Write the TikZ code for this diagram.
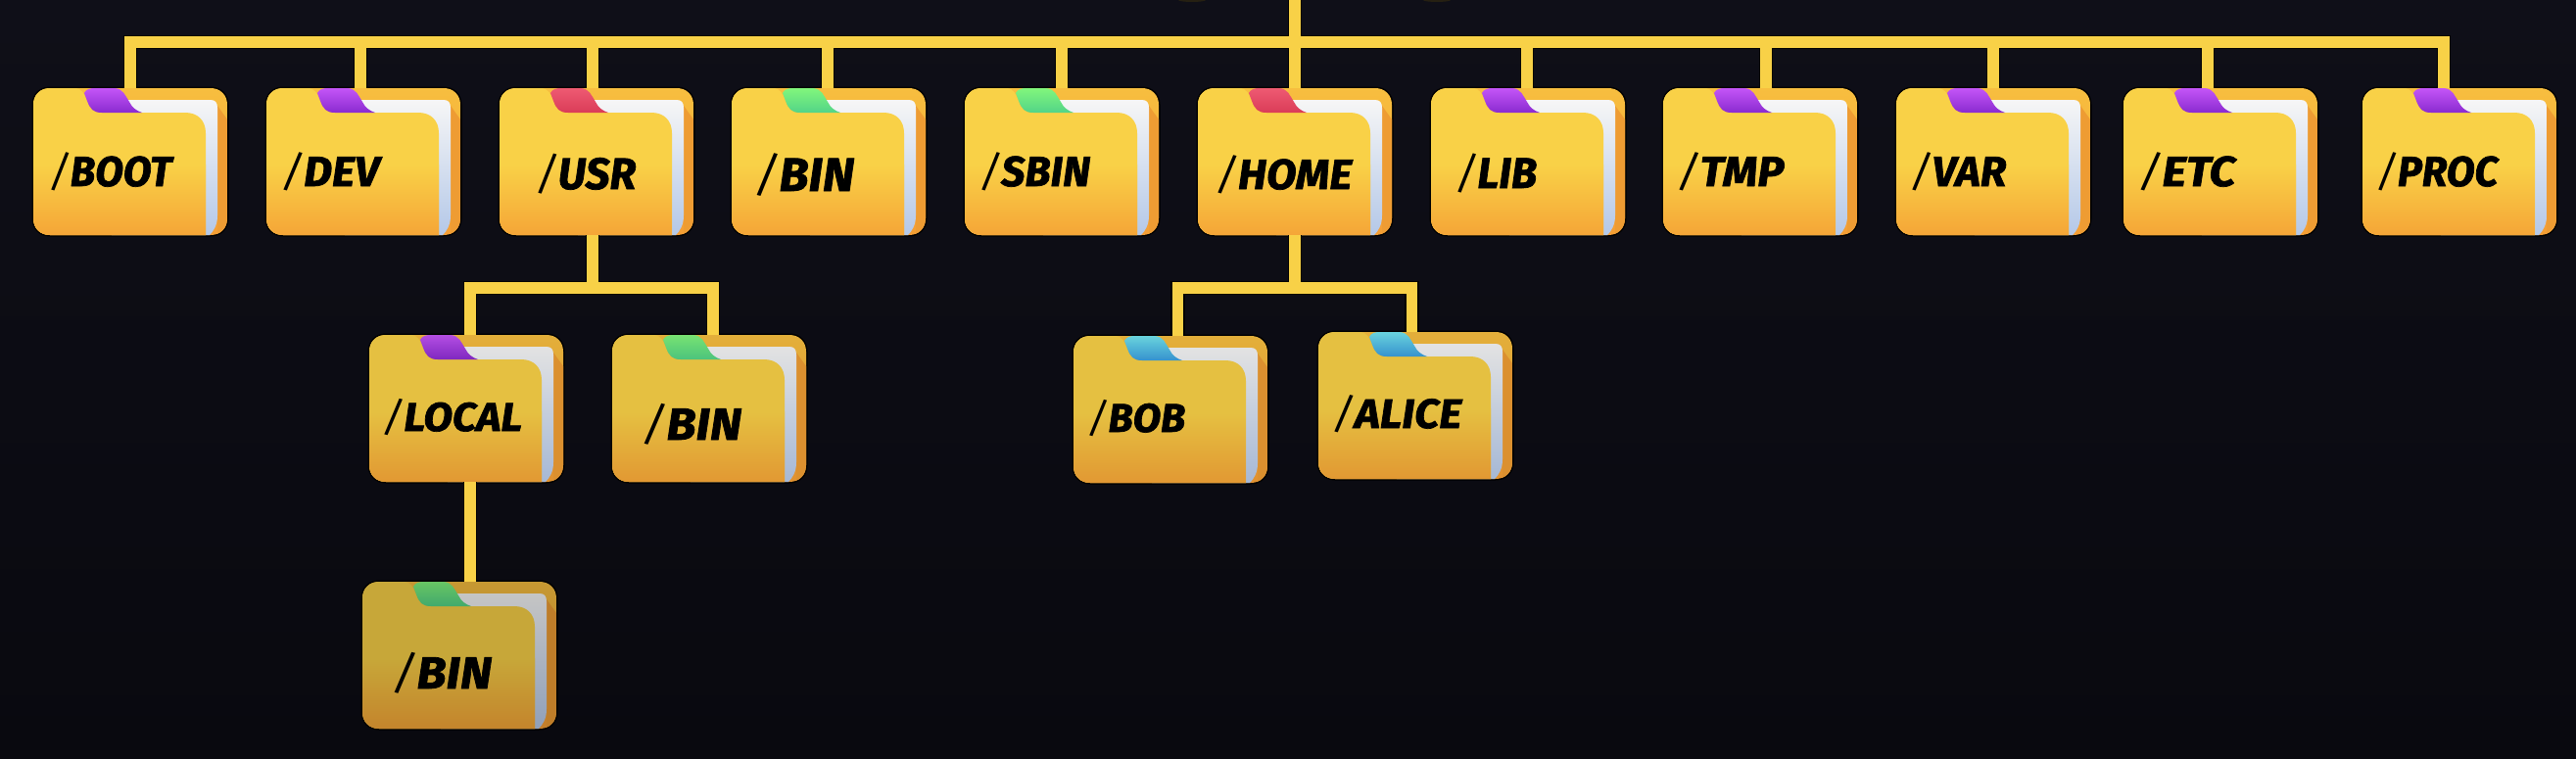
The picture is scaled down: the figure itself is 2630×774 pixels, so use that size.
\documentclass[tikz,border=0pt]{standalone}
\usepackage{graphicx}
\usepackage{fontspec}
\newfontfamily\fldfont{Fira Sans}[BoldItalicFeatures={FakeBold=1.6}]
\definecolor{BgT}{HTML}{0F0F18}
\definecolor{BgB}{HTML}{09090F}
\definecolor{Wire}{HTML}{F8D147}
\definecolor{FrontT}{HTML}{F9D147}
\definecolor{FrontB}{HTML}{F5A537}
\definecolor{BackT}{HTML}{F7BE3F}
\definecolor{BackB}{HTML}{F49E35}
\definecolor{Shade}{HTML}{EE9C33}
\definecolor{PaperT}{HTML}{F6F6F6}
\definecolor{PaperB}{HTML}{B4C8E8}
\definecolor{PurT}{HTML}{C455F7}
\definecolor{PurB}{HTML}{8A2BD0}
\definecolor{RedT}{HTML}{EE5A72}
\definecolor{RedB}{HTML}{DA3C58}
\definecolor{GrnT}{HTML}{82F67C}
\definecolor{GrnB}{HTML}{52D488}
\definecolor{BluT}{HTML}{72E6F0}
\definecolor{BluB}{HTML}{3A9EE0}
\definecolor{Faint}{HTML}{262012}
\tikzset{
  wirecase/.style={draw=black!92!BgT,line width=14.5pt,line join=miter},
  wireline/.style={draw=Wire,line width=11.5pt,line join=miter},
  foldertext/.style={anchor=base west,inner sep=0pt,text=black},
  folderbox/.style={anchor=north west,inner sep=0pt,minimum width=198pt,minimum height=150pt}
}
\newcommand{\fldlb}[2]{\fldfont\fontsize{#1}{#1}\selectfont{\itshape/}{\bfseries\itshape #2}}
\newcommand{\fldfront}{(0,17) .. controls (0,7) and (7,0) .. (17,0) -- (42,0) .. controls (50,0) and (52,6) .. (55,13) .. controls (58,21) and (61,25) .. (70,25) -- (155,25) .. controls (168,25) and (176,33) .. (176,46) -- (176,150) -- (17,150) .. controls (7,150) and (0,143) .. (0,133) -- cycle}
\newcommand{\fldouter}{(0,17) .. controls (0,7) and (7,0) .. (17,0) -- (181,0) .. controls (191,0) and (198,7) .. (198,17) -- (198,133) .. controls (198,143) and (191,150) .. (181,150) -- (17,150) .. controls (7,150) and (0,143) .. (0,133) -- cycle}
% name, left, top, tab colour prefix, brightness, label x, label baseline, label width, label
\newcommand{\folder}[9]{%
  \begin{scope}[shift={(#2,#3)}]
    \draw[black,line width=3pt] \fldouter;
    \begin{scope}
      \clip \fldouter;
      \shade[top color=BackT!#5!black,bottom color=BackB!#5!black] (0,0) rectangle (198,150);
      \fill[Shade!#5!black] (188,18) -- (198,32) -- (198,150) -- (188,150) -- cycle;
      \shade[top color=PaperT!#5!black,middle color=PaperT!#5!black,bottom color=PaperB!#5!black]
        (80,12) -- (181,12) .. controls (186,12) and (188,15) .. (188,20) -- (188,130) .. controls (188,140) and (184,146) .. (180,150) -- (80,150) -- cycle;
      \fill[FrontT!#5!black] \fldfront;
      \clip \fldfront;
      \shade[top color=FrontT!#5!black,bottom color=FrontB!#5!black] (0,78) rectangle (198,151);
    \end{scope}
    \shade[top color=#4T!#5!black,bottom color=#4B!#5!black]
      (52,5) .. controls (54,1) and (58,0) .. (63,0) -- (82,0) .. controls (92,0) and (94,8) .. (98,14) .. controls (101,20) and (105,23) .. (111,25) -- (70,25) .. controls (61,25) and (58,21) .. (55,13) -- cycle;
    \node[folderbox] (#1) at (0,0) {};
  \end{scope}
  \node[foldertext] (#1-label) at (#6,#7) {\resizebox{#8pt}{\height}{#9}};
}
\begin{document}
\begin{tikzpicture}[x=1pt,y=-1pt]
\useasboundingbox (0,0) rectangle (2630,774);
\shade[top color=BgT,bottom color=BgB] (0,0) rectangle (2630,774);
\fill[Faint] (1217,0) ellipse (14 and 2);
\fill[Faint] (1467,0) ellipse (14 and 2);

\folder{boot}{34}{90}{Pur}{100}{50}{190}{125}{\fldlb{43}{BOOT}}
\folder{dev}{272}{90}{Pur}{100}{287}{190}{100}{\fldlb{43}{DEV}}
\folder{usr}{510}{90}{Red}{100}{547}{193}{102}{\fldlb{45}{USR}}
\folder{binA}{747}{90}{Grn}{100}{770}{195}{102}{\fldlb{48}{BIN}}
\folder{sbin}{985}{90}{Grn}{100}{1000}{190}{113}{\fldlb{43}{SBIN}}
\folder{home}{1223}{90}{Red}{100}{1241}{193}{139}{\fldlb{43}{HOME}}
\folder{lib}{1461}{90}{Pur}{100}{1486}{192}{83}{\fldlb{44}{LIB}}
\folder{tmp}{1698}{90}{Pur}{100}{1712}{190}{109}{\fldlb{43}{TMP}}
\folder{var}{1936}{90}{Pur}{100}{1950}{190}{98}{\fldlb{43}{VAR}}
\folder{etc}{2168}{90}{Pur}{100}{2183}{190}{99}{\fldlb{43}{ETC}}
\folder{proc}{2412}{90}{Pur}{100}{2426}{190}{124}{\fldlb{43}{PROC}}

\folder{local}{377}{342}{Pur}{92}{390}{440}{143}{\fldlb{41}{LOCAL}}
\folder{binB}{625}{342}{Grn}{92}{655}{449}{102}{\fldlb{46}{BIN}}
\folder{binC}{370}{594}{Grn}{80}{400}{703}{102}{\fldlb{46}{BIN}}
\folder{bob}{1096}{343}{Blu}{92}{1110}{441}{100}{\fldlb{41}{BOB}}
\folder{alice}{1346}{339}{Blu}{92}{1360}{437}{132}{\fldlb{42}{ALICE}}

\coordinate (root) at (home.north |- 0,0);
\coordinate (bus) at (home.north |- 0,43);
\coordinate (usrtap) at ([xshift=-4pt]usr.south);
\coordinate (usrbar) at (usrtap |- 0,294);
\coordinate (homebar) at (home.south |- 0,294);
\coordinate (localtap) at ([xshift=4pt]local.south);
\newcommand{\routes}{
  (root) -- (home.north)
  (bus) -| (boot.north)
  (bus) -| ([xshift=-3pt]dev.north)
  (bus) -| ([xshift=-4pt]usr.north)
  (bus) -| ([xshift=-1pt]binA.north)
  (bus) -| (sbin.north)
  (bus) -| ([xshift=-1pt]lib.north)
  (bus) -| ([xshift=6pt]tmp.north)
  (bus) -| (var.north)
  (bus) -| ([xshift=-13pt]etc.north)
  (bus) -| ([xshift=-16pt]proc.north)
  (usrtap) -- (usrbar)
  (usrbar) -| ([xshift=4pt]local.north)
  (usrbar) -| ([xshift=4pt]binB.north)
  (localtap) -- (localtap |- binC.north)
  (home.south) -- (homebar)
  (homebar) -| ([xshift=7.5pt]bob.north)
  (homebar) -| ([xshift=-3.5pt]alice.north)
}
\draw[wirecase] \routes;
\draw[wireline] \routes;
\end{tikzpicture}
\end{document}
